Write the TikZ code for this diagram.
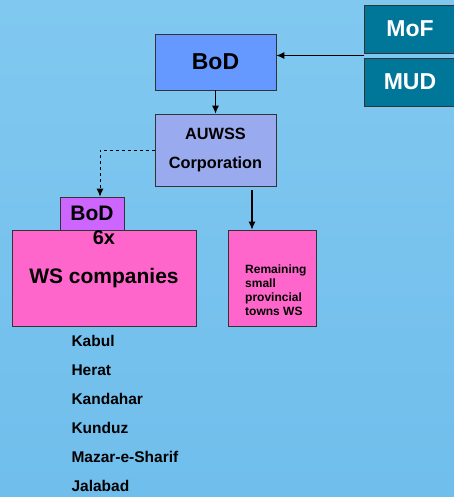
\documentclass[tikz,border=0pt]{standalone}
\usepackage{fontspec}
\setmainfont{Liberation Sans}
\usetikzlibrary{arrows.meta,positioning}

\definecolor{sky}{RGB}{128,200,240}
\definecolor{skylow}{RGB}{112,190,236}
\definecolor{bodblue}{RGB}{102,153,255}
\definecolor{corpblue}{RGB}{153,170,238}
\definecolor{teal}{RGB}{0,119,153}
\definecolor{violet}{RGB}{204,102,255}
\definecolor{pink}{RGB}{255,102,204}

\tikzset{
	box/.style={draw=black!80,line width=0.7pt,inner sep=0pt,font=\bfseries},
	city/.style={anchor=west,font=\bfseries\fontsize{15.5}{18}\selectfont},
	link/.style={-{Latex[length=8pt,width=7pt]},line width=1.1pt}
}

\begin{document}
\begin{tikzpicture}[x=1pt,y=-1pt]
\useasboundingbox (0,0) rectangle (454,497);
\shade[top color=sky,bottom color=skylow] (0,0) rectangle (454,497);

\node[box,fill=bodblue,minimum width=121,minimum height=56,font=\bfseries\fontsize{23}{26}\selectfont]   (bod)   at (215.5,62)   {BoD};
\node[box,fill=corpblue,minimum width=121,minimum height=72,align=center,font=\bfseries\fontsize{16.3}{29}\selectfont]   (auwss)   at (215.5,150)   {AUWSS\\Corporation};
	\node[box,fill=teal,text=white,minimum width=92,minimum height=48,font=\bfseries\fontsize{23}{26}\selectfont]   (mof)   at (410,29)   {MoF};
	\node[box,fill=teal,text=white,minimum width=92,minimum height=48,font=\bfseries\fontsize{23}{26}\selectfont]   (mud)   at (410,82)   {MUD};
\node[box,fill=violet,minimum width=64,minimum height=33,font=\bfseries\fontsize{21}{24}\selectfont]   (bods)   at (92,213.5)   {BoD};
\node[box,fill=pink,minimum width=184,minimum height=96,font=\bfseries\fontsize{21}{24}\selectfont]   (ws)   at (104,278)   {WS companies};
	\node[font=\bfseries\fontsize{20}{22}\selectfont,anchor=north,inner sep=1pt]   (wsn)   at (ws.north)   {6x};
\node[box,fill=pink,minimum width=88,minimum height=96]   (rem)   at (272,278)   {};
	\node[anchor=west,align=left,inner sep=0pt,font=\bfseries\fontsize{12}{14}\selectfont]   (remtext)   at (245,290)   {Remaining\\small\\provincial\\towns WS};

\foreach \name [count=\i] in {Kabul,Herat,Kandahar,Kunduz,Mazar-e-Sharif,Jalabad}
	\node[city]   (city\i)   at (68,{341+29*(\i-1)})   {\name};

\coordinate (gap) at (364,55.5);
\coordinate (down) at (252,190);

	\draw[link] (gap) -- (gap -| bod.east);
	\draw[link] (bod) -- (auwss);
	\draw[link] (down) -- (down |- rem.north);
	\draw[link,line width=0.9pt,dashed] (auwss.west) -| ([xshift=8pt]bods.north);

\end{tikzpicture}
\end{document}
